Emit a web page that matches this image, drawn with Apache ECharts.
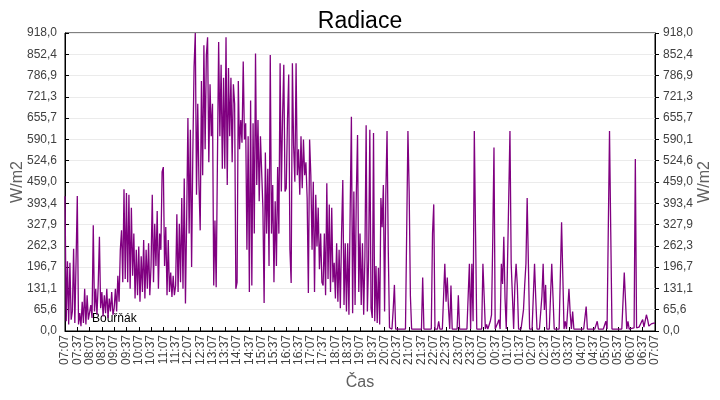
<!DOCTYPE html>
<html>
<head>
<meta charset="utf-8">
<title>Radiace</title>
<script src="https://cdn.jsdelivr.net/npm/echarts@6/dist/echarts.min.js"></script>
<style>
  html, body { margin: 0; padding: 0; background: #fff; }
  #chart { width: 720px; height: 400px; }
</style>
</head>
<body>
<div id="chart"></div>
<script>
// popisky osy X (po 30 minutach)
const timeLabels = [
  '07:07','07:37','08:07','08:37','09:07','09:37','10:07','10:37','11:07','11:37',
  '12:07','12:37','13:07','13:37','14:07','14:37','15:07','15:37','16:07','16:37',
  '17:07','17:37','18:07','18:37','19:07','19:37','20:07','20:37','21:07','21:37',
  '22:07','22:37','23:07','23:37','00:07','00:37','01:07','01:37','02:07','02:37',
  '03:07','03:37','04:07','04:37','05:07','05:37','06:07','06:37','07:07'
];

const stepMinutes = 3;

// radiace W/m2, vzorek po 3 minutach od 07:07
const morning = [
  415, 30, 215, 20, 210, 35, 60, 253, 25, 215,
  416, 20, 55, 15, 90, 25, 130, 20, 110, 35,
  30, 80, 40, 326, 60, 130, 50, 140, 290, 70,
  120, 45, 110, 55, 130, 40, 100, 60, 120, 50,
  70, 130, 60, 170, 90, 250, 310, 150, 437, 160,
  425, 150, 420, 130, 380, 170, 300, 100, 250, 110,
  260, 90, 230, 120, 280, 100, 250, 130, 270, 110,
  200, 420, 150, 330, 200, 370, 130, 300, 250, 490,
  505, 200, 320, 110, 280, 120, 180, 105, 170, 110,
  140, 360, 120, 330, 150, 410, 130, 470, 85, 350
];

const midday = [
  656, 300, 620, 197, 550, 813, 918, 420, 700, 450,
  310, 770, 480, 880, 560, 850, 905, 520, 760, 600,
  700, 140, 340, 135, 520, 890, 600, 820, 500, 780,
  500, 905, 450, 810, 600, 780, 520, 760, 700, 130,
  150, 770, 560, 650, 580, 830, 590, 640, 250, 600,
  120, 710, 140, 640, 300, 855, 450, 650, 400, 600,
  600, 380, 86, 550, 300, 500, 200, 850, 300, 450,
  150, 400, 200, 505, 300, 825, 430, 660, 820, 430,
  440, 650, 790, 250, 148, 825, 570, 460, 825, 480,
  560, 420, 600, 440, 590, 480, 520, 410, 117, 590
];

const evening = [
  480, 250, 460, 120, 420, 260, 380, 190, 300, 150,
  140, 300, 110, 455, 160, 390, 120, 380, 150, 210,
  100, 270, 90, 250, 70, 300, 465, 80, 270, 60,
  270, 50, 370, 660, 55, 430, 80, 420, 604, 120,
  300, 80, 270, 50, 230, 634, 60, 220, 620, 70,
  40, 610, 30, 200, 25, 195, 20, 410, 320, 450,
  60, 420, 616, 250, 10, 6, 6, 65, 142, 6
];

const night = [
  6, 6, 6, 6, 6, 6, 6, 6, 6, 616,
  431, 108, 6, 6, 6, 6, 6, 6, 6, 6,
  6, 165, 6, 6, 6, 6, 6, 6, 6, 300,
  390, 6, 6, 6, 30, 6, 6, 6, 6, 207,
  90, 165, 70, 6, 140, 6, 6, 6, 6, 6,
  110, 6, 6, 6, 6, 6, 6, 6, 108, 207,
  6, 207, 30, 616, 306, 6, 6, 6, 6, 6,
  207, 108, 6, 20, 6, 6, 30, 50, 280, 565,
  6, 6, 25, 35, 6, 207, 145, 290, 100, 6,
  207, 410, 616, 207, 108, 6, 142, 207, 140, 6,
  6, 6, 6, 65, 142, 207, 410, 207, 6, 6,
  6, 6, 207, 100, 6, 6, 6, 6, 108, 207,
  65, 142, 6, 6, 6, 6, 207, 108, 6, 6,
  6, 6, 6, 6, 335, 170, 6, 30, 6, 6,
  130, 55, 6, 60, 6, 6, 6, 6, 6, 6,
  6, 6, 6, 6, 75, 6, 6, 6, 6, 6,
  6, 6, 6, 30, 6, 6, 6, 6, 6, 6,
  30, 6, 6, 616, 306, 6, 6, 6, 6, 6,
  6, 6, 6, 6, 6, 180, 95, 6, 30, 6,
  8, 8, 10, 10, 530, 10, 10, 12, 12, 28,
  35, 12, 15, 50, 35, 15, 18, 22, 22, 24, 24
];

const radiation = morning.concat(midday, evening, night);
const seriesData = radiation.map((v, i) => [i * stepMinutes, v]);

const yMax = 918;
const yStep = yMax / 14;
const fmtY = (v) => v.toFixed(1).replace('.', ',');

const font = 'Liberation Sans, Arial, sans-serif';

const chart = echarts.init(document.getElementById('chart'), null, { renderer: 'canvas' });

const yAxisBase = {
  type: 'value',
  min: 0,
  max: yMax,
  interval: yStep,
  name: 'W/m2',
  nameLocation: 'middle',
  nameMoveOverlap: false,
  nameTextStyle: { color: '#606060', fontSize: 16, fontFamily: font },
  axisLine: { show: true, lineStyle: { color: '#000', width: 1 } },
  axisLabel: { color: '#404040', fontSize: 12, fontFamily: font, formatter: fmtY },
  splitLine: { show: true, lineStyle: { color: '#ebebeb', width: 1 } }
};

const option = {
  animation: false,
  backgroundColor: '#fff',
  title: {
    text: 'Radiace',
    left: 'center',
    top: 5,
    textStyle: { color: '#000', fontSize: 23, fontWeight: 'normal', fontFamily: font }
  },
  grid: {
    left: 65,
    right: 65,
    top: 33,
    bottom: 69,
    show: true,
    borderColor: '#000',
    borderWidth: 1,
    containLabel: false,
    outerBoundsMode: 'none'
  },
  graphic: [
    {
      type: 'text',
      left: 92,
      top: 313,
      style: { text: 'Bouřňák', fill: '#000', fontSize: 12, fontFamily: font }
    }
  ],
  xAxis: {
    type: 'value',
    min: 0,
    max: (timeLabels.length - 1) * 30,
    interval: 30,
    name: 'Čas',
    nameLocation: 'middle',
    nameGap: 44,
    nameMoveOverlap: false,
    nameTextStyle: { color: '#606060', fontSize: 16, fontFamily: font },
    axisLine: { show: true, onZero: false, lineStyle: { color: '#000', width: 1 } },
    axisTick: { show: true, inside: true, length: 4, lineStyle: { color: '#000' } },
    axisLabel: {
      rotate: 90,
      color: '#404040',
      fontSize: 12,
      fontFamily: font,
      margin: 4,
      formatter: (v) => timeLabels[Math.round(v / 30)]
    },
    splitLine: { show: false }
  },
  yAxis: [
    Object.assign({}, yAxisBase, {
      position: 'left',
      nameGap: 39,
      axisTick: { show: true, inside: true, length: 4, lineStyle: { color: '#000' } }
    }),
    Object.assign({}, yAxisBase, {
      position: 'right',
      nameGap: 42,
      axisTick: { show: true, inside: false, length: 4, lineStyle: { color: '#000' } },
      splitLine: { show: false }
    })
  ],
  series: [
    {
      name: 'Bouřňák',
      type: 'line',
      data: seriesData,
      yAxisIndex: 0,
      symbol: 'none',
      sampling: null,
      lineStyle: { color: '#800080', width: 1.3 },
      itemStyle: { color: '#800080' }
    }
  ]
};

chart.setOption(option);
</script>
</body>
</html>
